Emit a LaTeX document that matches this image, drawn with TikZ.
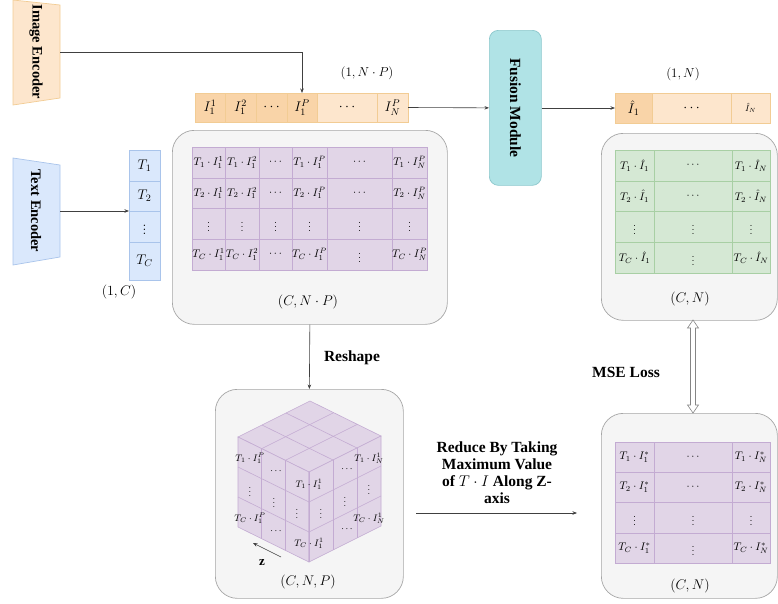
\RequirePackage{fix-cm}
\documentclass[tikz,border=0pt]{standalone}
\usepackage{fontspec}
\newfontfamily\tnr{Liberation Serif}
\usetikzlibrary{arrows.meta,calc}
\definecolor{peachD}{HTML}{F9D4A8}
\definecolor{peachL}{HTML}{FDE6CD}
\definecolor{peachB}{HTML}{F2CC94}
\definecolor{blueF}{HTML}{DAE8FC}
\definecolor{blueB}{HTML}{A9C4EB}
\definecolor{tealF}{HTML}{B0E3E6}
\definecolor{tealB}{HTML}{8CC7CC}
\definecolor{purF}{HTML}{E1D5E7}
\definecolor{purB}{HTML}{C3ABD2}
\definecolor{grnF}{HTML}{D5E8D4}
\definecolor{grnB}{HTML}{A8CFA4}
\definecolor{grayF}{HTML}{F5F5F5}
\definecolor{grayB}{HTML}{A6A6A6}
\definecolor{arr}{HTML}{404040}
\newcommand\gc[7]{\node[gridcell,#6,minimum width=#4,minimum height=#5] (#1) at (#2,#3) {#7};}
\begin{document}
\begin{tikzpicture}[x=1pt,y=-1pt,
  gridcell/.style={draw, anchor=north west, inner sep=0pt, outer sep=0pt, line width=0.6pt, font=\fontsize{11}{13}\selectfont},
  pur/.style={fill=purF, draw=purB},
  grn/.style={fill=grnF, draw=grnB},
  pkd/.style={fill=peachD, draw=peachB},
  pkl/.style={fill=peachL, draw=peachB},
  blu/.style={fill=blueF, draw=blueB},
  big/.style={font=\fontsize{14}{16}\selectfont},
  graybox/.style={draw=grayB, fill=grayF, rounded corners=22pt, line width=0.7pt, anchor=north west, inner sep=0pt},
  conn/.style={draw=arr, line width=0.6pt, -{Stealth[length=4.5pt,width=3.5pt]}},
  dimlbl/.style={font=\fontsize{14}{16}\selectfont},
  enclbl/.style={font=\tnr\bfseries\fontsize{14.5}{17}\selectfont},
  boldlbl/.style={font=\tnr\bfseries\fontsize{15.5}{17}\selectfont},
  cubeline/.style={draw=purB, line width=0.6pt},
  cl/.style={font=\fontsize{9.5}{10}\selectfont, inner sep=0pt},
]
\useasboundingbox (0,0) rectangle (778,603);

% ---------- encoders ----------
\filldraw[fill=peachL, draw=peachB, line width=0.7pt] (13,0) -- (60,5) -- (60,98) -- (13,105) -- cycle;
\node[enclbl, rotate=-90] (ienc) at (36,52) {Image Encoder};
\coordinate (iencR) at (60,52);
\filldraw[fill=blueF, draw=blueB, line width=0.7pt] (13,158) -- (60,165) -- (60,257) -- (13,265) -- cycle;
\node[enclbl, rotate=-90] (tenc) at (36,211) {Text Encoder};
\coordinate (tencR) at (60,211);

% ---------- text token column ----------
\gc{t1}{129}{150}{31}{31}{blu,big}{$T_1$}
\gc{t2}{129}{181}{31}{30}{blu,big}{$T_2$}
\gc{t3}{129}{211}{31}{31}{blu,big}{$\vdots$}
\gc{t4}{129}{242}{31}{38}{blu,big}{$T_C$}
\node[dimlbl] (dimC) at (119,292) {$(1, C)$};

% ---------- image token row ----------
\gc{i11}{195}{93}{30}{29}{pkd,big}{$I_1^1$}
\gc{i12}{225}{93}{31}{29}{pkd,big}{$I_1^2$}
\gc{i1d}{256}{93}{31}{29}{pkd,big}{$\cdots$}
\gc{i1P}{287}{93}{30}{29}{pkd,big}{$I_1^P$}
\gc{ind}{317}{93}{60}{29}{pkl,big}{$\cdots$}
\gc{iNP}{377}{93}{31}{29}{pkl,big}{$I_N^P$}
\node[font=\fontsize{13}{15}\selectfont] (dimNP) at (367,73) {$(1, N\cdot P)$};

% ---------- fusion ----------
\node[draw=tealB, fill=tealF, rounded corners=9pt, line width=0.7pt, anchor=north west, minimum width=52, minimum height=155, inner sep=0pt] (fusion) at (489,30) {};
\node[boldlbl, rotate=-90] (fusiontxt) at (fusion.center) {Fusion Module};

% ---------- output row ----------
\gc{o1}{615}{93}{37}{30}{pkd,big}{$\hat{I}_1$}
\gc{od}{652}{93}{79}{30}{pkl,big}{$\cdots$}
\gc{oN}{731}{93}{39}{30}{pkl,font=\fontsize{9}{10}\selectfont}{$\hat{I}_N$}
\node[font=\fontsize{13}{15}\selectfont] (dimN) at (683,74) {$(1, N)$};

% ---------- gray boxes ----------
\node[graybox, minimum width=275, minimum height=194] (gb1) at (172,130) {};
\node[graybox, minimum width=176, minimum height=187] (gb2) at (601,133) {};
\node[graybox, minimum width=176, minimum height=185] (gb3) at (601,413) {};
\node[graybox, minimum width=188, minimum height=209] (gb4) at (215,389) {};

% ---------- grid 1 (C, N*P) ----------
\gc{a11}{192}{147}{33}{31}{pur}{$T_1\cdot I_1^1$}
\gc{a12}{225}{147}{34}{31}{pur}{$T_1\cdot I_1^2$}
\gc{a13}{259}{147}{33}{31}{pur}{$\cdots$}
\gc{a14}{292}{147}{35}{31}{pur}{$T_1\cdot I_1^P$}
\gc{a15}{327}{147}{65}{31}{pur}{$\cdots$}
\gc{a16}{392}{147}{35}{31}{pur}{$T_1\cdot I_N^P$}
\gc{a21}{192}{178}{33}{30}{pur}{$T_2\cdot I_1^1$}
\gc{a22}{225}{178}{34}{30}{pur}{$T_2\cdot I_1^2$}
\gc{a23}{259}{178}{33}{30}{pur}{$\cdots$}
\gc{a24}{292}{178}{35}{30}{pur}{$T_2\cdot I_1^P$}
\gc{a25}{327}{178}{65}{30}{pur}{$\cdots$}
\gc{a26}{392}{178}{35}{30}{pur}{$T_2\cdot I_N^P$}
\gc{a31}{192}{208}{33}{31}{pur}{$\vdots$}
\gc{a32}{225}{208}{34}{31}{pur}{$\vdots$}
\gc{a33}{259}{208}{33}{31}{pur}{$\vdots$}
\gc{a34}{292}{208}{35}{31}{pur}{$\vdots$}
\gc{a35}{327}{208}{65}{31}{pur}{$\vdots$}
\gc{a36}{392}{208}{35}{31}{pur}{$\vdots$}
\gc{a41}{192}{239}{33}{31}{pur}{$T_C\cdot I_1^1$}
\gc{a42}{225}{239}{34}{31}{pur}{$T_C\cdot I_1^2$}
\gc{a43}{259}{239}{33}{31}{pur}{$\cdots$}
\gc{a44}{292}{239}{35}{31}{pur}{$T_C\cdot I_1^P$}
\gc{a45}{327}{239}{65}{31}{pur}{$\vdots$}
\gc{a46}{392}{239}{35}{31}{pur}{$T_C\cdot I_N^P$}
\node[dimlbl] (dimCNP) at (308,302) {$(C, N\cdot P)$};

% ---------- grid 2 (green) ----------
\gc{b11}{615}{150}{39}{31}{grn}{$T_1\cdot \hat{I}_1$}
\gc{b12}{654}{150}{78}{31}{grn}{$\cdots$}
\gc{b13}{732}{150}{38}{31}{grn}{$T_1\cdot \hat{I}_N$}
\gc{b21}{615}{181}{39}{30}{grn}{$T_2\cdot \hat{I}_1$}
\gc{b22}{654}{181}{78}{30}{grn}{$\cdots$}
\gc{b23}{732}{181}{38}{30}{grn}{$T_2\cdot \hat{I}_N$}
\gc{b31}{615}{211}{39}{31}{grn}{$\vdots$}
\gc{b32}{654}{211}{78}{31}{grn}{$\vdots$}
\gc{b33}{732}{211}{38}{31}{grn}{$\vdots$}
\gc{b41}{615}{242}{39}{31}{grn}{$T_C\cdot \hat{I}_1$}
\gc{b42}{654}{242}{78}{31}{grn}{$\vdots$}
\gc{b43}{732}{242}{38}{31}{grn}{$T_C\cdot \hat{I}_N$}
\node[dimlbl] (dimCN1) at (690,299) {$(C, N)$};

% ---------- grid 3 (purple) ----------
\gc{c11}{615}{442}{39}{30}{pur}{$T_1\cdot I_1^*$}
\gc{c12}{654}{442}{78}{30}{pur}{$\cdots$}
\gc{c13}{732}{442}{38}{30}{pur}{$T_1\cdot I_N^*$}
\gc{c21}{615}{472}{39}{30}{pur}{$T_2\cdot I_1^*$}
\gc{c22}{654}{472}{78}{30}{pur}{$\cdots$}
\gc{c23}{732}{472}{38}{30}{pur}{$T_2\cdot I_N^*$}
\gc{c31}{615}{502}{39}{31}{pur}{$\vdots$}
\gc{c32}{654}{502}{78}{31}{pur}{$\vdots$}
\gc{c33}{732}{502}{38}{31}{pur}{$\vdots$}
\gc{c41}{615}{533}{39}{30}{pur}{$T_C\cdot I_1^*$}
\gc{c42}{654}{533}{78}{30}{pur}{$\vdots$}
\gc{c43}{732}{533}{38}{30}{pur}{$T_C\cdot I_N^*$}
\node[dimlbl] (dimCN2) at (690,586) {$(C, N)$};

% ---------- cube ----------
\coordinate (cT) at (310,401);
\coordinate (cL) at (238,437);
\coordinate (cR) at (381,436);
\coordinate (cF) at (309,472);
\filldraw[cubeline, fill=purF] (cT) -- (cL) -- (cF) -- (cR) -- cycle;
\filldraw[cubeline, fill=purF] (cL) -- (cF) -- ($(cF)+(0,90)$) -- ($(cL)+(0,90)$) -- cycle;
\filldraw[cubeline, fill=purF] (cF) -- (cR) -- ($(cR)+(0,90)$) -- ($(cF)+(0,90)$) -- cycle;
\foreach \k in {1,2}{
  \draw[cubeline] ($(cT)!\k/3!(cL)$) -- ($(cR)!\k/3!(cF)$);
  \draw[cubeline] ($(cT)!\k/3!(cR)$) -- ($(cL)!\k/3!(cF)$);
  \draw[cubeline] ($(cL)!\k/3!(cF)$) -- ++(0,90);
  \draw[cubeline] ($(cF)!\k/3!(cR)$) -- ++(0,90);
  \draw[cubeline] ($(cL)+(0,30*\k)$) -- ($(cF)+(0,30*\k)$);
  \draw[cubeline] ($(cF)+(0,30*\k)$) -- ($(cR)+(0,30*\k)$);
}
\draw[cubeline] (cF) -- ++(0,90);
\node[cl] (q11) at (250,458) {$T_1\cdot I_1^P$};
\node[cl] (q12) at (276,471) {$\cdots$};
\node[cl] (q13) at (309,484) {$T_1\cdot I_1^1$};
\node[cl] (q14) at (347,469) {$\cdots$};
\node[cl] (q15) at (369,458) {$T_1\cdot I_N^1$};
\node[cl] (q21) at (250,489) {$\vdots$};
\node[cl] (q22) at (274,500) {$\vdots$};
\node[cl] (q23) at (297,511) {$\vdots$};
\node[cl] (q24) at (321,511) {$\vdots$};
\node[cl] (q25) at (345,499) {$\vdots$};
\node[cl] (q26) at (369,487) {$\vdots$};
\node[cl] (q31) at (250,518) {$T_C\cdot I_1^P$};
\node[cl] (q32) at (276,531) {$\cdots$};
\node[cl] (q33) at (309,543) {$T_C\cdot I_1^1$};
\node[cl] (q34) at (347,529) {$\cdots$};
\node[cl] (q35) at (369,518) {$T_C\cdot I_N^1$};
\coordinate (zs) at (281,557);
\coordinate (ze) at (253,543);
\draw[conn] (zs) -- (ze);
\node[font=\tnr\bfseries\fontsize{13}{14}\selectfont] (zl) at (262,563) {z};
\node[dimlbl] (dimCNP3) at (308,582) {$(C, N, P)$};

% ---------- connectors ----------
\draw[conn] (iencR) -| (i1P.north);
\draw[conn] (tencR) -- (t2.south west);
\draw[conn] (iNP.east) -- (fusion.west);
\draw[conn] (fusion.east |- o1.west) -- (o1.west);
\draw[conn] (gb1.south) -- (gb4.north);
\node[boldlbl] (reshape) at (352,358) {Reshape};
\coordinate (rs) at (416,513);
\coordinate (re) at (577,513);
\draw[conn] (rs) -- (re);
\node[boldlbl, align=center] (reduce) at (497,473) {Reduce By Taking\\Maximum Value\\of $T\cdot I$ Along Z-\\axis};
\node[boldlbl] (mse) at (626,372) {MSE Loss};
\coordinate (dtop) at (693,320);
\coordinate (dbot) at (693,413);
\filldraw[draw=grayB!80!black, fill=white, line width=0.6pt]
  (dtop) -- ++(5.5,8) -- ++(-3,0) -- ($(dbot)+(2.5,-8)$) -- ++(3,0) -- (dbot)
  -- ++(-5.5,-8) -- ++(3,0) -- ($(dtop)+(-2.5,8)$) -- ++(-3,0) -- cycle;
\end{tikzpicture}
\end{document}
